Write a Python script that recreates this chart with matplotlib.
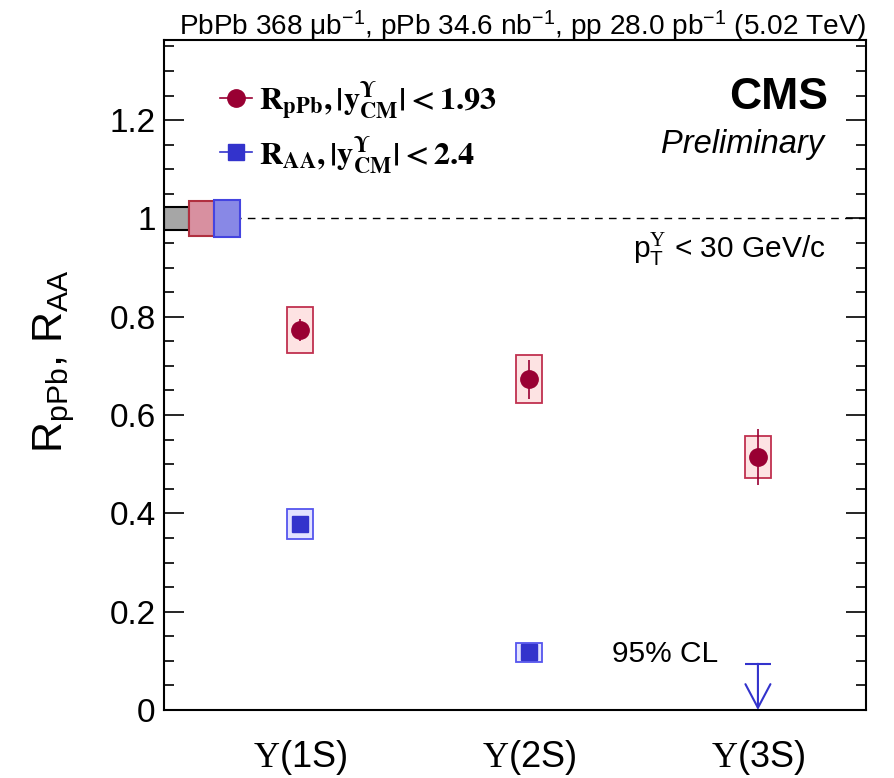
import matplotlib
matplotlib.use('Agg')
import matplotlib.pyplot as plt
from matplotlib.patches import Rectangle
from matplotlib.lines import Line2D
from matplotlib.font_manager import FontProperties

plt.rcParams['font.family'] = ['Liberation Sans', 'DejaVu Sans']
plt.rcParams['mathtext.fontset'] = 'custom'
plt.rcParams['mathtext.rm'] = 'Liberation Sans'
plt.rcParams['mathtext.it'] = 'Liberation Sans:italic'
plt.rcParams['mathtext.bf'] = 'Liberation Sans:bold'
plt.rcParams['mathtext.sf'] = 'Liberation Serif'

## data
states = [r'$\mathsf{\Upsilon}$(1S)', r'$\mathsf{\Upsilon}$(2S)', r'$\mathsf{\Upsilon}$(3S)']
xpos = [1, 2, 3]

# pPb, |y_CM| < 1.93
rppb = [0.773, 0.673, 0.515]
rppb_stat = [0.022, 0.040, 0.057]
rppb_syst = [0.047, 0.049, 0.043]

# PbPb, |y_CM| < 2.4 (3S only an upper limit)
raa = [0.378, 0.117]
raa_stat = [0.008, 0.010]
raa_syst = [0.030, 0.020]
raa_3s_limit = 0.094

# global uncertainties at unity: pp, pPb, PbPb
glob_unc = [0.023, 0.035, 0.038]

## colours
red = '#990033'
red_fill, red_edge = '#fde3e3', '#c0304f'
blue = '#3333cc'
blue_fill, blue_edge = '#e3e3ff', '#5555ee'
glob_fill = ['#a6a6a6', '#d890a0', '#8888e6']
glob_edge = ['#000000', '#b03040', '#4444e0']

fig = plt.figure(figsize=(8.95, 7.78), dpi=100)
ax = fig.add_axes([164/895, 1-710/778, 702/895, 670/778])

xmin, xmax = 0.406, 3.472
bw = 0.11
ax.set_xlim(xmin, xmax)
ax.set_ylim(0, 1.363)

ax.axhline(1, color='k', lw=1, ls=(0, (5.5, 4.5)), zorder=1)

## global boxes
for i, u in enumerate(glob_unc):
    ax.add_patch(Rectangle((xmin + i*bw, 1-u), bw, 2*u, fc=glob_fill[i],
                           ec=glob_edge[i], lw=1.5, zorder=2))

## systematic boxes
for x, y, s in zip(xpos, rppb, rppb_syst):
    ax.add_patch(Rectangle((x-bw/2, y-s), bw, 2*s, fc=red_fill, ec=red_edge,
                           lw=1.3, zorder=2))
for x, y, s in zip(xpos[:2], raa, raa_syst):
    ax.add_patch(Rectangle((x-bw/2, y-s), bw, 2*s, fc=blue_fill, ec=blue_edge,
                           lw=1.3, zorder=2))

ax.errorbar(xpos, rppb, yerr=rppb_stat, fmt='o', color=red, ms=12.5,
            elinewidth=1.2, capsize=0, zorder=4)
ax.errorbar(xpos[:2], raa, yerr=raa_stat, fmt='s', color=blue, ms=11,
            elinewidth=1.2, capsize=0, zorder=4)

## 3S upper limit
ax.hlines(raa_3s_limit, xpos[2]-bw/2, xpos[2]+bw/2, color=blue, lw=1.5, zorder=4)
ax.annotate('', xy=(xpos[2], 0), xytext=(xpos[2], raa_3s_limit),
            arrowprops=dict(arrowstyle='->,head_length=1.7,head_width=0.9',
                            color=blue, lw=1.5, shrinkA=0, shrinkB=0),
            annotation_clip=False, zorder=4)

## axes style
for sp in ax.spines.values():
    sp.set_linewidth(1.5)
ax.set_yticks([0, 0.2, 0.4, 0.6, 0.8, 1.0, 1.2])
ax.set_yticklabels(['0', '0.2', '0.4', '0.6', '0.8', '1', '1.2'])
ax.set_yticks([i*0.05 for i in range(28)], minor=True)
ax.tick_params(axis='y', which='both', direction='in', left=True, right=True,
               labelsize=24, pad=6, width=1.2)
ax.tick_params(axis='y', which='major', length=14.5)
ax.tick_params(axis='y', which='minor', length=7.2)
ax.set_xticks(xpos)
ax.set_xticklabels(states)
ax.tick_params(axis='x', length=0, labelsize=26, pad=20)

ax.set_ylabel(r'R$_{\rm pPb}$, R$_{\rm AA}$', fontsize=31)
ax.yaxis.set_label_coords(-0.124, 0.52)

## texts
def fx(px):
    return (px - 164) / 702

def fy(py):
    return (710 - py) / 670

ax.text(1.0, fy(35), r'PbPb 368 $\mathregular{\mu}$b$^{-1}$, pPb 34.6 nb$^{-1}$, '
        r'pp 28.0 pb$^{-1}$ (5.02 TeV)', transform=ax.transAxes, ha='right',
        va='baseline', fontsize=20.2)
ax.text(fx(828), fy(109), 'CMS', transform=ax.transAxes, ha='right',
        va='baseline', fontsize=32, fontweight='bold')
ax.text(fx(824), fy(153), 'Preliminary', transform=ax.transAxes, ha='right',
        va='baseline', fontsize=23.5, fontstyle='italic')
ax.text(fx(826), fy(257), r'p$_{\rm T}^{\mathsf{\Upsilon}}$ < 30 GeV/c',
        transform=ax.transAxes, ha='right', va='baseline', fontsize=21.5)
ax.text(fx(612), fy(662), '95% CL', transform=ax.transAxes, ha='left',
        va='baseline', fontsize=21.5)

## legend
handles = [Line2D([], [], color=red, marker='o', ms=12.5, lw=1.2),
           Line2D([], [], color=blue, marker='s', ms=11, lw=1.2)]
labels = [r'$\mathbf{R_{pPb}, |y^{\Upsilon}_{CM}| < 1.93}$',
          r'$\mathbf{R_{AA}, |y^{\Upsilon}_{CM}| < 2.4}$']
prop = FontProperties(family='Liberation Serif', weight='bold', size=23.2,
                      math_fontfamily='stix')
ax.legend(handles, labels, loc='upper left', bbox_to_anchor=(fx(220), fy(79)),
          borderaxespad=0, borderpad=0, handlelength=1.0, handletextpad=0.2,
          labelspacing=0.42, frameon=False, prop=prop)

fig.savefig('out.png', dpi=100)
